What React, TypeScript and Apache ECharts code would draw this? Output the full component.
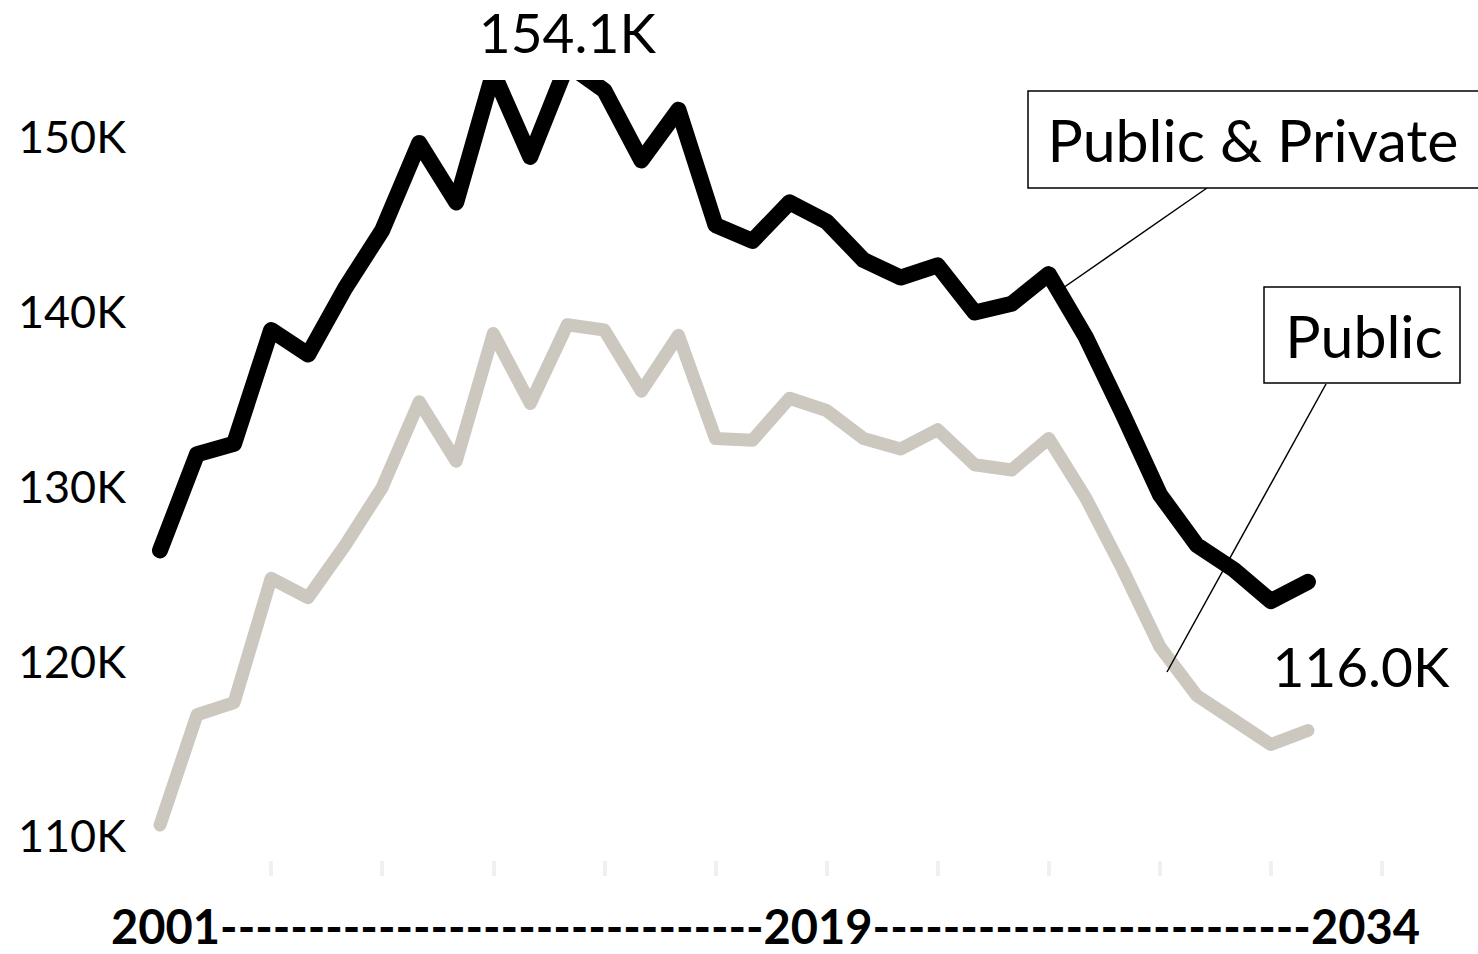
import React, { useEffect, useRef } from 'react';
import * as echarts from 'echarts';

const years = [
  '2001', '2002', '2003', '2004', '2005', '2006', '2007', '2008', '2009', '2010',
  '2011', '2012', '2013', '2014', '2015', '2016', '2017', '2018', '2019', '2020',
  '2021', '2022', '2023', '2024', '2025', '2026', '2027', '2028', '2029', '2030',
  '2031', '2032', '2033', '2034',
];

// thousands
const publicPrivate = [
  126.3, 131.8, 132.4, 138.9, 137.5, 141.3, 144.6, 149.6, 146.2, 153.6,
  148.8, 154.1, 152.6, 148.6, 151.5, 144.9, 144.0, 146.2, 145.1, 142.9,
  141.9, 142.6, 139.9, 140.4, 142.1, 138.5, 134.1, 129.5, 126.6, 125.2,
  123.4, 124.5,
];

const publicOnly = [
  110.6, 116.9, 117.6, 124.7, 123.6, 126.6, 129.9, 134.8, 131.4, 138.7,
  134.7, 139.2, 138.9, 135.4, 138.6, 132.7, 132.6, 135.0, 134.3, 132.7,
  132.1, 133.2, 131.2, 130.9, 132.7, 129.3, 125.2, 120.8, 118.0, 116.6,
  115.2, 116.0,
];

const yTickValues = [110, 120, 130, 140, 150];
const xTitleYears = ['2001', '2019', '2034'];
const dashCounts = [31, 25];
const seriesNames = ['Public & Private', 'Public'];

const FONT = 'Lato';
const BLACK = '#000000';
const GRAY = '#ccc8c0';

export default function App() {
  const ref = useRef<HTMLDivElement>(null);

  useEffect(() => {
    if (!ref.current) return;
    const chart = echarts.init(ref.current, null, { renderer: 'svg' });

    const xName =
      `{y|${xTitleYears[0]}}{d|${'-'.repeat(dashCounts[0])}}` +
      `{y|${xTitleYears[1]}}{d|${'-'.repeat(dashCounts[1])}}{y|${xTitleYears[2]}}`;

    chart.setOption({
      animation: false,
      backgroundColor: '#ffffff',
      grid: { left: 160, right: 96, top: 88, bottom: 84, containLabel: false },
      xAxis: {
        type: 'category',
        data: years,
        boundaryGap: false,
        axisLine: { show: false },
        axisTick: {
          show: true,
          length: 15,
          interval: (i: number) => i > 0 && i % 3 === 0,
          lineStyle: { color: '#f0f0f0', width: 4 },
        },
        axisLabel: { show: false },
        splitLine: { show: false },
        name: xName,
        nameLocation: 'middle',
        nameGap: 41,
        nameTextStyle: {
          padding: [0, 11, 0, 0],
          rich: {
            y: { fontFamily: FONT, fontWeight: 'bold', fontSize: 47, color: BLACK },
            d: { fontFamily: FONT, fontWeight: 'bold', fontSize: 47, color: BLACK },
          },
        },
      },
      yAxis: {
        type: 'value',
        min: 108.54,
        max: 152.74,
        splitNumber: 4,
        axisLine: { show: false },
        axisTick: { show: false },
        splitLine: { show: false },
        axisLabel: {
          margin: 34,
          fontFamily: FONT,
          fontSize: 45,
          color: BLACK,
          formatter: (v: number) =>
            yTickValues.some((t) => Math.abs(t - v) < 1e-6) ? `${Math.round(v)}K` : '',
        },
      },
      series: [
        {
          name: seriesNames[1],
          type: 'line',
          data: publicOnly,
          showSymbol: false,
          symbol: 'none',
          clip: true,
          lineStyle: { color: GRAY, width: 13, cap: 'round', join: 'round' },
          z: 2,
        },
        {
          name: seriesNames[0],
          type: 'line',
          data: publicPrivate,
          showSymbol: false,
          symbol: 'none',
          clip: true,
          lineStyle: { color: BLACK, width: 16, cap: 'round', join: 'round' },
          z: 3,
        },
      ],
    });

    const peakVal = Math.max(...publicPrivate);
    const peakIdx = publicPrivate.indexOf(peakVal);
    const lastIdx = publicOnly.length - 1;
    const pPeak = chart.convertToPixel({ gridIndex: 0 }, [peakIdx, peakVal]) as number[];
    const pLast = chart.convertToPixel({ gridIndex: 0 }, [lastIdx, publicOnly[lastIdx]]) as number[];

    chart.setOption({
      graphic: [
        {
          type: 'text',
          x: pPeak[0],
          y: pPeak[1] - 32,
          style: {
            text: `${peakVal.toFixed(1)}K`,
            font: `55px ${FONT}`,
            fill: BLACK,
            textAlign: 'center',
            textVerticalAlign: 'middle',
          },
        },
        {
          type: 'text',
          x: pLast[0] + 53,
          y: pLast[1] - 65,
          style: {
            text: `${publicOnly[lastIdx].toFixed(1)}K`,
            font: `55px ${FONT}`,
            fill: BLACK,
            textAlign: 'center',
            textVerticalAlign: 'middle',
          },
        },
        {
          type: 'line',
          shape: { x1: 1207, y1: 188, x2: 1063, y2: 288 },
          style: { stroke: BLACK, lineWidth: 1.5 },
          z: 10,
        },
        {
          type: 'line',
          shape: { x1: 1326, y1: 384, x2: 1167, y2: 672 },
          style: { stroke: BLACK, lineWidth: 1.5 },
          z: 10,
        },
        {
          type: 'rect',
          shape: { x: 1028, y: 91, width: 470, height: 97 },
          style: { fill: '#ffffff', stroke: BLACK, lineWidth: 1.5 },
          z: 11,
        },
        {
          type: 'text',
          x: 1253,
          y: 139,
          style: {
            text: seriesNames[0],
            font: `59px ${FONT}`,
            fill: BLACK,
            textAlign: 'center',
            textVerticalAlign: 'middle',
          },
          z: 12,
        },
        {
          type: 'rect',
          shape: { x: 1264, y: 287, width: 196, height: 96 },
          style: { fill: '#ffffff', stroke: BLACK, lineWidth: 1.5 },
          z: 11,
        },
        {
          type: 'text',
          x: 1364,
          y: 335,
          style: {
            text: seriesNames[1],
            font: `59px ${FONT}`,
            fill: BLACK,
            textAlign: 'center',
            textVerticalAlign: 'middle',
          },
          z: 12,
        },
      ],
    });

    return () => chart.dispose();
  }, []);

  return (
    <div
      ref={ref}
      style={{ position: 'fixed', left: 0, top: 0, width: 1478, height: 954 }}
    />
  );
}
